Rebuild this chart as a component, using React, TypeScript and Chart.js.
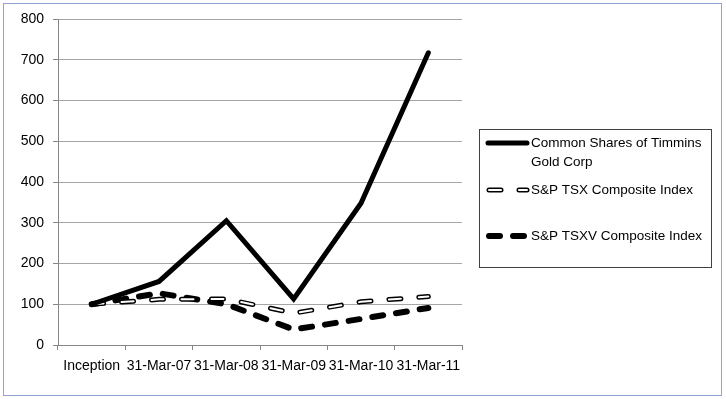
import React, { useEffect, useRef } from "react";
import { Chart, registerables } from "chart.js";

Chart.register(...registerables);

const categories = ["Inception", "31-Mar-07", "31-Mar-08", "31-Mar-09", "31-Mar-10", "31-Mar-11"];
const timminsValues = [100, 156, 305, 113, 348, 717];
const tsxValues = [100, 112, 113, 78, 106, 119];
const tsxvValues = [100, 127, 100, 38, 64, 91];
const yTicks = [0, 100, 200, 300, 400, 500, 600, 700, 800];
const legendLabels = [
  ["Common Shares of Timmins", "Gold Corp"],
  ["S&P TSX Composite Index"],
  ["S&P TSXV Composite Index"],
];

const FONT = "'Liberation Sans', Arial, sans-serif";

const framePlugin = {
  id: "frameAndLegend",
  afterDraw(chart: any) {
    const ctx = chart.ctx as CanvasRenderingContext2D;
    ctx.save();
    // outer frame
    ctx.strokeStyle = "#8EA5D3";
    ctx.lineWidth = 1;
    ctx.setLineDash([]);
    ctx.strokeRect(3.5, 3.5, 718, 392);

    // legend box
    ctx.fillStyle = "#ffffff";
    ctx.strokeStyle = "#404040";
    ctx.strokeRect(479.5, 129.5, 232, 138);

    ctx.font = `13.5px ${FONT}`;
    ctx.fillStyle = "#000";
    ctx.textBaseline = "middle";
    ctx.textAlign = "left";

    // Timmins sample
    ctx.lineCap = "round";
    ctx.strokeStyle = "#000";
    ctx.lineWidth = 5;
    ctx.beginPath();
    ctx.moveTo(488, 143);
    ctx.lineTo(527, 143);
    ctx.stroke();
    ctx.fillText(legendLabels[0][0], 531, 143);
    ctx.fillText(legendLabels[0][1], 531, 162);

    // TSX sample
    ctx.setLineDash([12, 18]);
    ctx.lineWidth = 5;
    ctx.strokeStyle = "#000";
    ctx.beginPath();
    ctx.moveTo(489, 190);
    ctx.lineTo(527, 190);
    ctx.stroke();
    ctx.lineWidth = 2;
    ctx.strokeStyle = "#fff";
    ctx.beginPath();
    ctx.moveTo(489, 190);
    ctx.lineTo(527, 190);
    ctx.stroke();
    ctx.fillText(legendLabels[1][0], 531, 190);

    // TSXV sample
    ctx.setLineDash([11, 13]);
    ctx.lineWidth = 6;
    ctx.strokeStyle = "#000";
    ctx.beginPath();
    ctx.moveTo(489, 236);
    ctx.lineTo(527, 236);
    ctx.stroke();
    ctx.setLineDash([]);
    ctx.fillText(legendLabels[2][0], 531, 236);
    ctx.restore();
  },
};

export default function App() {
  const ref = useRef<HTMLCanvasElement | null>(null);
  useEffect(() => {
    document.body.style.margin = "0";
    const canvas = ref.current!;
    const chart = new Chart(canvas, {
      type: "line",
      data: {
        labels: categories,
        datasets: [
          {
            label: "Common Shares of Timmins Gold Corp",
            data: timminsValues,
            borderColor: "#000",
            borderWidth: 5,
            pointRadius: 0,
            tension: 0,
            borderCapStyle: "round",
            borderJoinStyle: "miter",
            order: 0,
          },
          {
            label: "S&P TSX outline",
            data: tsxValues,
            borderColor: "#000",
            borderWidth: 5,
            borderDash: [12, 18],
            borderCapStyle: "round",
            pointRadius: 0,
            tension: 0,
            order: 2,
          },
          {
            label: "S&P TSX Composite Index",
            data: tsxValues,
            borderColor: "#fff",
            borderWidth: 2,
            borderDash: [12, 18],
            borderCapStyle: "round",
            pointRadius: 0,
            tension: 0,
            order: 1,
          },
          {
            label: "S&P TSXV Composite Index",
            data: tsxvValues,
            borderColor: "#000",
            borderWidth: 6,
            borderDash: [11, 13],
            borderCapStyle: "round",
            pointRadius: 0,
            tension: 0,
            order: 3,
          },
        ],
      },
      options: {
        animation: false,
        responsive: false,
        devicePixelRatio: 1,
        layout: { padding: { top: 19, right: 264, bottom: 0, left: 0 } },
        plugins: {
          legend: { display: false },
          tooltip: { enabled: false },
        },
        scales: {
          x: {
            type: "category",
            offset: true,
            afterFit: (s: any) => {
              s.height = 54;
            },
            grid: {
              offset: true,
              drawOnChartArea: false,
              drawTicks: true,
              tickLength: 5,
              color: "#868686",
            },
            border: { color: "#868686", width: 1 },
            ticks: {
              autoSkip: false,
              maxRotation: 0,
              minRotation: 0,
              padding: 8,
              color: "#000",
              font: { family: FONT, size: 14 },
            },
          },
          y: {
            min: 0,
            max: 800,
            afterFit: (s: any) => {
              s.width = 58;
            },
            afterBuildTicks: (s: any) => {
              s.ticks = yTicks.map((v) => ({ value: v }));
            },
            grid: {
              color: "#A6A6A6",
              lineWidth: 1,
              tickLength: 5,
              tickColor: "#868686",
            },
            border: { color: "#868686", width: 1 },
            ticks: {
              stepSize: 100,
              padding: 9,
              color: "#000",
              font: { family: FONT, size: 14 },
            },
          },
        },
      },
      plugins: [framePlugin],
    });
    return () => chart.destroy();
  }, []);
  return <canvas ref={ref} width={726} height={399} style={{ display: "block", width: 726, height: 399 }} />;
}
